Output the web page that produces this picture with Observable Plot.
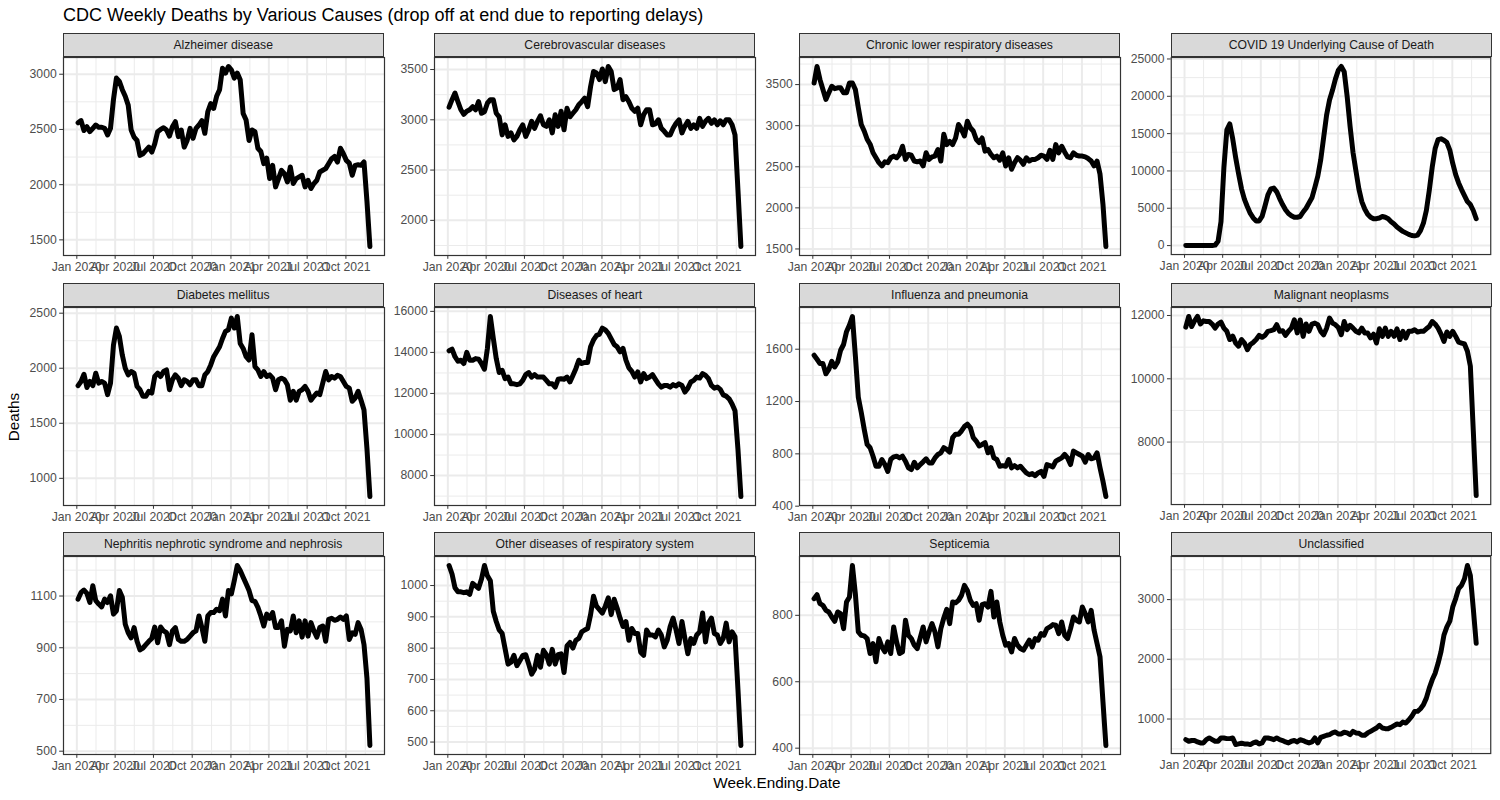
<!DOCTYPE html>
<html><head><meta charset="utf-8">
<script src="https://cdn.jsdelivr.net/npm/d3@7"></script>
<script src="https://cdn.jsdelivr.net/npm/@observablehq/plot@0.6"></script>
<style>
body{margin:0;background:#fff;font-family:"Liberation Sans",Arial,sans-serif;}
#root{position:relative;width:1500px;height:800px;overflow:hidden;background:#fff;}
.title{position:absolute;left:63px;top:5px;font-size:18px;color:#000;white-space:nowrap;line-height:1.15;}
.strip{position:absolute;box-sizing:border-box;background:#D9D9D9;border:1.2px solid #333;color:#1A1A1A;font-size:12.2px;display:flex;align-items:center;justify-content:center;white-space:nowrap;}
.panel{position:absolute;}
.ylab{position:absolute;left:14px;top:417px;font-size:15.3px;color:#000;transform:translate(-50%,-50%) rotate(-90deg);white-space:nowrap;}
.xlab{position:absolute;left:777px;top:783px;font-size:15.3px;color:#000;transform:translate(-50%,-50%);white-space:nowrap;}
</style></head>
<body><div id="root"></div>
<script>
// ---------- data ----------
const titleText = "CDC Weekly Deaths by Various Causes (drop off at end due to reporting delays)";
const xTitle = "Week.Ending.Date";
const yTitle = "Deaths";
const firstWeek = "2020-01-04"; // week ending dates, weekly
const xTicks = ["2020-01-01","2020-04-01","2020-07-01","2020-10-01","2021-01-01","2021-04-01","2021-07-01","2021-10-01"];

const causes = ["Alzheimer disease","Cerebrovascular diseases","Chronic lower respiratory diseases","COVID 19 Underlying Cause of Death","Diabetes mellitus","Diseases of heart","Influenza and pneumonia","Malignant neoplasms","Nephritis nephrotic syndrome and nephrosis","Other diseases of respiratory system","Septicemia","Unclassified"];

const alzheimer = [2560,2580,2490,2525,2480,2510,2540,2520,2520,2510, 2450,2510,2770,2965,2935,2860,2800,2720,2495,2430, 2400,2265,2280,2310,2340,2295,2370,2480,2500,2515, 2495,2440,2525,2570,2435,2495,2340,2400,2510,2420, 2510,2540,2580,2465,2660,2735,2690,2800,2860,3055, 3010,3070,3040,2965,3010,2950,2645,2585,2400,2495, 2480,2330,2300,2190,2240,2055,2175,1980,2055,2130, 2100,2025,2160,2010,2055,2070,2085,1980,2040,1965, 2010,2040,2115,2130,2145,2190,2235,2255,2205,2330, 2280,2220,2195,2085,2175,2180,2175,2205,1850,1440];
const cerebrovascular = [3126,3200,3265,3180,3100,3055,3085,3100,3130,3100, 3180,3065,3080,3165,3200,3200,3065,3030,2850,2950, 2835,2870,2800,2835,2900,2950,2835,2900,2985,2915, 2985,3040,2950,2935,3000,2870,3050,2935,3085,2900, 3115,3030,3065,3100,3150,3180,3215,3130,3330,3480, 3465,3400,3505,3380,3530,3480,3300,3315,3400,3200, 3230,3180,3115,3085,3115,2950,3050,3100,3100,2950, 2960,3000,2915,2885,2850,2850,2915,2965,3000,2870, 2935,2985,2915,2950,2915,3015,2935,2985,3015,2965, 3000,2950,2990,2950,3000,3000,2950,2850,2300,1740];
const chronicLower = [3520,3720,3560,3440,3320,3400,3480,3450,3460,3460, 3400,3400,3520,3520,3440,3220,3015,2935,2835,2775, 2670,2610,2550,2510,2560,2550,2610,2630,2610,2650, 2750,2590,2650,2640,2570,2560,2570,2510,2670,2590, 2620,2630,2710,2570,2895,2770,2810,2770,2850,3015, 2955,2875,3055,2975,2935,2835,2795,2850,2690,2710, 2650,2610,2630,2580,2670,2510,2610,2470,2550,2610, 2580,2530,2610,2570,2590,2590,2610,2640,2630,2590, 2700,2590,2770,2670,2750,2680,2620,2610,2670,2640, 2630,2630,2620,2600,2570,2510,2570,2410,2045,1530];
const covid = [0,0,0,0,0,0,0,0,0,10, 60,570,3200,10500,15500,16300,14300,11800,9600,7600, 6200,5200,4300,3700,3300,3300,3900,5300,6800,7600, 7700,7200,6300,5500,4800,4300,4000,3800,3800,3900, 4500,5000,5700,6400,7800,9300,11500,14500,17500,19500, 20800,22300,23500,24000,23300,20000,16000,12500,10000,7600, 5900,4900,4200,3800,3600,3600,3700,3900,3800,3600, 3200,2900,2500,2200,1900,1700,1500,1350,1300,1400, 2000,3000,4700,7400,10500,13000,14200,14300,14100,13800, 12800,11000,9500,8400,7500,6700,5900,5500,4700,3600];
const diabetes = [1842,1880,1945,1825,1880,1842,1955,1865,1880,1865, 1760,1865,2210,2365,2290,2120,2000,1940,1970,1955, 1835,1805,1745,1745,1790,1775,1925,1955,1925,1970, 1985,1805,1895,1940,1910,1842,1895,1880,1850,1895, 1895,1842,1842,1940,1970,2030,2105,2150,2195,2270, 2335,2350,2455,2365,2470,2225,2180,2105,2075,2305, 2015,1985,1925,1970,1925,1940,1910,1805,1895,1910, 1895,1850,1710,1790,1710,1790,1805,1835,1790,1710, 1745,1775,1760,1865,1970,1895,1925,1910,1935,1925, 1880,1835,1820,1700,1730,1790,1710,1620,1270,835];
const heart = [14080,14160,13790,13570,13620,13460,14000,13620,13620,13700, 13670,13460,13180,14200,15750,14690,13700,13020,13130,12720, 12800,12470,12470,12430,12470,12640,12920,13020,12800,12920, 12800,12800,12800,12640,12470,12470,12310,12690,12720,12690, 12800,12560,12880,13210,13620,13460,13510,13510,14280,14610, 14820,14890,15180,15100,14930,14660,14390,14280,14030,14200, 13620,13250,13080,12800,13050,12560,12970,12720,12800,12920, 12690,12470,12310,12390,12390,12310,12430,12360,12470,12390, 12070,12260,12560,12640,12800,12750,12970,12880,12720,12390, 12260,12310,12200,11930,11870,11740,11490,11160,9280,6980];
const influenza = [1554,1523,1490,1490,1412,1446,1507,1464,1502,1592, 1636,1734,1785,1850,1550,1233,1117,988,872,847, 782,705,705,757,718,666,757,777,782,769, 782,744,693,680,736,693,718,739,762,731, 731,769,795,808,847,834,813,924,950,950, 975,1009,1027,1001,924,898,860,872,885,808, 847,769,757,705,710,705,757,693,710,693, 705,680,654,641,649,633,654,666,628,718, 710,700,744,757,769,795,769,718,821,808, 795,782,736,795,762,769,808,693,590,474];
const malignant = [11630,11970,11650,11830,11970,11730,11830,11810,11810,11730, 11600,11730,11790,11600,11500,11240,11350,11130,11030,11240, 11130,10920,11080,11150,11240,11370,11310,11370,11500,11520, 11550,11710,11500,11520,11370,11500,11600,11860,11450,11860, 11340,11730,11500,11730,11760,11710,11500,11390,11600,11920, 11760,11710,11620,11390,11810,11550,11690,11600,11500,11450, 11600,11450,11450,11290,11410,11130,11580,11340,11600,11340, 11500,11340,11580,11240,11500,11290,11500,11500,11550,11480, 11500,11500,11580,11650,11810,11730,11600,11410,11180,11480, 11340,11500,11340,11160,11130,11100,10870,10400,8360,6310];
const nephritis = [1088,1114,1123,1110,1075,1140,1082,1069,1058,1088, 1075,1101,1030,1043,1121,1095,991,958,938,978, 925,892,899,912,925,936,980,919,980,965, 958,912,965,978,932,925,925,932,945,958, 965,1023,978,925,1023,1036,1036,1049,1043,1088, 1023,1121,1108,1160,1218,1199,1173,1147,1121,1082, 1079,1056,1023,984,1030,1014,1036,978,978,1004, 906,971,965,1023,958,1004,941,1004,945,997, 965,941,978,984,925,1010,1014,1006,1010,1019, 1010,1023,932,958,952,997,971,912,782,522];
const otherRespiratory = [1064,1037,993,980,980,977,980,972,1007,999, 991,1021,1064,1031,1015,918,885,858,847,798, 749,755,777,744,760,777,779,749,717,733, 777,739,793,779,749,796,749,779,782,722, 807,818,800,825,831,852,858,863,907,966, 934,923,912,934,961,907,956,928,896,869, 885,825,863,847,847,787,777,858,842,842, 836,858,842,804,825,869,896,858,815,885, 831,782,831,815,842,852,912,820,880,896, 847,842,815,831,880,820,852,836,668,489];
const septicemia = [850,862,835,830,815,810,795,782,810,805, 760,840,855,950,865,750,740,738,730,685, 715,660,730,705,690,720,685,765,720,685, 690,785,740,730,710,700,732,765,720,750, 775,750,705,760,792,818,775,840,838,845, 860,890,875,845,830,835,785,832,835,825, 872,795,840,780,740,710,715,690,730,710, 700,695,710,725,705,730,725,745,740,760, 765,772,770,745,780,740,730,760,795,785, 780,825,805,780,815,755,715,675,540,408];
const unclassified = [655,628,640,640,617,600,600,655,683,655, 628,628,683,683,672,672,683,572,583,594, 583,583,572,600,617,583,600,683,683,672, 655,683,655,640,617,600,628,640,617,655, 640,617,600,617,683,600,694,711,728,739, 767,783,750,750,778,767,739,794,767,761, 728,728,767,794,822,850,894,850,839,839, 861,889,917,906,950,933,983,1044,1128,1128, 1172,1239,1350,1517,1656,1767,1933,2128,2406,2544, 2639,2878,3017,3183,3239,3350,3572,3406,2850,2267];

const seriesValues = [alzheimer, cerebrovascular, chronicLower, covid, diabetes, heart, influenza, malignant, nephritis, otherRespiratory, septicemia, unclassified];

const yTicksByPanel = [
  [1500,2000,2500,3000],
  [2000,2500,3000,3500],
  [1500,2000,2500,3000,3500],
  [0,5000,10000,15000,20000,25000],
  [1000,1500,2000,2500],
  [8000,10000,12000,14000,16000],
  [400,800,1200,1600],
  [8000,10000,12000],
  [500,700,900,1100],
  [500,600,700,800,900,1000],
  [400,600,800],
  [1000,2000,3000]
];

// ---------- layout ----------
const colLefts = [62.7, 434.3, 799, 1170.8];
const rowTops = [33.3, 283, 532.3];
const stripH = 23.5, plotW = 321, plotH = 198;
const ML = 52, MR = 10, MT = 4, MB = 26;

const root = document.getElementById("root");
const add = (cls, text) => { const d = document.createElement("div"); d.className = cls; if (text != null) d.textContent = text; root.appendChild(d); return d; };
add("title", titleText);
add("ylab", yTitle);
add("xlab", xTitle);

const start = new Date(firstWeek + "T00:00:00Z");
const majorX = xTicks.map(s => new Date(s + "T00:00:00Z"));
const fmt = d3.utcFormat("%b %Y");
const yFmt = d => String(d);

causes.forEach((name, k) => {
  const values = seriesValues[k];
  const data = values.map((v, i) => ({date: d3.utcDay.offset(start, 7 * i), value: v}));
  const [x0, x1] = d3.extent(data, d => d.date);
  const xs = +x1 - +x0;
  const xDom = [new Date(+x0 - 0.05 * xs), new Date(+x1 + 0.05 * xs)];
  const [y0, y1] = d3.extent(values);
  const ys = y1 - y0;
  const yDom = [y0 - 0.05 * ys, y1 + 0.05 * ys];
  const yt = yTicksByPanel[k];
  const step = yt[1] - yt[0];
  const minorY = [];
  for (let v = yt[0] - step / 2; v <= yDom[1]; v += step) if (v >= yDom[0]) minorY.push(v);
  const minorX = [];
  minorX.push(new Date(+majorX[0] - (+majorX[1] - +majorX[0]) / 2));
  for (let i = 0; i < majorX.length - 1; i++) minorX.push(new Date((+majorX[i] + +majorX[i + 1]) / 2));
  const n = majorX.length;
  minorX.push(new Date(+majorX[n - 1] + (+majorX[n - 1] - +majorX[n - 2]) / 2));
  const minorXIn = minorX.filter(d => d >= xDom[0] && d <= xDom[1]);

  const col = k % 4, row = Math.floor(k / 4);
  const left = colLefts[col], top = rowTops[row];

  const strip = add("strip", name);
  Object.assign(strip.style, {left: left + "px", top: top + "px", width: plotW + "px", height: (stripH + 0.6) + "px"});

  const chart = Plot.plot({
    width: ML + plotW + MR,
    height: MT + plotH + MB,
    marginLeft: ML, marginRight: MR, marginTop: MT, marginBottom: MB,
    style: {fontFamily: "'Liberation Sans', Arial, sans-serif", fontSize: "12.2px", background: "transparent", overflow: "visible"},
    x: {type: "utc", domain: xDom},
    y: {domain: yDom},
    marks: [
      Plot.ruleY(minorY, {stroke: "#EBEBEB", strokeWidth: 1}),
      Plot.ruleX(minorXIn, {stroke: "#EBEBEB", strokeWidth: 1}),
      Plot.ruleY(yt, {stroke: "#EBEBEB", strokeWidth: 2}),
      Plot.ruleX(majorX, {stroke: "#EBEBEB", strokeWidth: 2}),
      Plot.line(data, {x: "date", y: "value", stroke: "#000", strokeWidth: 5, strokeLinejoin: "round"}),
      Plot.frame({stroke: "#333", strokeWidth: 1.2}),
      Plot.axisY(yt, {label: null, tickFormat: yFmt, tickSize: 3.8, tickPadding: 3, stroke: "#333", fill: "#4D4D4D", fontSize: 12.2}),
      Plot.axisX(majorX, {label: null, tickFormat: fmt, tickSize: 3.8, tickPadding: 3, stroke: "#333", fill: "#4D4D4D", fontSize: 12.2})
    ]
  });
  const holder = add("panel");
  Object.assign(holder.style, {left: (left - ML) + "px", top: (top + stripH - MT) + "px"});
  holder.appendChild(chart);
});
</script>
</body></html>
